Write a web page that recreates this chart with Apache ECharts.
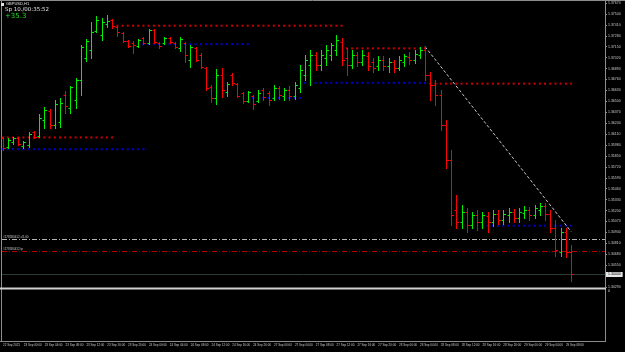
<!DOCTYPE html>
<html>
<head>
<meta charset="utf-8">
<script src="https://cdn.jsdelivr.net/npm/echarts@6/dist/echarts.min.js"></script>
<style>
  html, body { margin: 0; padding: 0; background: #000; }
  #chart { width: 625px; height: 352px; }
</style>
</head>
<body>
<div id="chart"></div>
<script>
const symbolName = 'GBPUSD,H1'
const spreadText = 'Sp 10./00:35:52'
const profitText = '+35.3'

// one label every 4 bars, starting at bar 0
const tickLabels = [
  '22 Sep 2021', '23 Sep 00:00', '23 Sep 04:00', '23 Sep 08:00', '23 Sep 12:00', '23 Sep 16:00', '23 Sep 20:00',
  '24 Sep 00:00', '24 Sep 04:00', '24 Sep 08:00', '24 Sep 12:00', '24 Sep 16:00', '24 Sep 20:00',
  '27 Sep 00:00', '27 Sep 04:00', '27 Sep 08:00', '27 Sep 12:00', '27 Sep 16:00', '27 Sep 20:00',
  '28 Sep 00:00', '28 Sep 04:00', '28 Sep 08:00', '28 Sep 12:00', '28 Sep 16:00', '28 Sep 20:00',
  '29 Sep 00:00', '29 Sep 04:00', '29 Sep 08:00',
]

const opens = [
  1.3606, 1.3596, 1.3602, 1.3606, 1.3597, 1.3598, 1.3614, 1.3609, 1.3628, 1.3639,
  1.3622, 1.3625, 1.3658, 1.3642, 1.3652, 1.3675, 1.3702, 1.3711, 1.3734, 1.3729,
  1.3742, 1.3747, 1.3738, 1.3731, 1.3722, 1.3719, 1.3716, 1.3725, 1.3719, 1.3735,
  1.3719, 1.3719, 1.3725, 1.3719, 1.3714, 1.3719, 1.3699, 1.3714, 1.3705, 1.3690,
  1.3667, 1.3654, 1.3681, 1.3661, 1.3681, 1.3671, 1.3660, 1.3650, 1.3656, 1.3650,
  1.3664, 1.3660, 1.3654, 1.3666, 1.3656, 1.3664, 1.3656, 1.3666, 1.3681, 1.3693,
  1.3705, 1.3693, 1.3702, 1.3705, 1.3711, 1.3721, 1.3702, 1.3693, 1.3705, 1.3697,
  1.3704, 1.3697, 1.3692, 1.3699, 1.3692, 1.3697, 1.3690, 1.3697, 1.3703, 1.3699,
  1.3705, 1.3711, 1.3681, 1.3669, 1.3658, 1.3622, 1.3580, 1.3521, 1.3506, 1.3518,
  1.3503, 1.3515, 1.3506, 1.3514, 1.3506, 1.3516, 1.3509, 1.3515, 1.3518, 1.3511,
  1.3517, 1.3521, 1.3515, 1.3521, 1.3525, 1.3516, 1.3499, 1.3471, 1.3495, 1.3471,
]
const highs = [
  1.3608, 1.3606, 1.3608, 1.3608, 1.3603, 1.3614, 1.3615, 1.3635, 1.3643, 1.3641,
  1.3652, 1.3654, 1.3662, 1.3668, 1.3678, 1.3717, 1.3724, 1.3744, 1.3752, 1.3749,
  1.3753, 1.3748, 1.3740, 1.3733, 1.3723, 1.3722, 1.3724, 1.3727, 1.3736, 1.3736,
  1.3721, 1.3727, 1.3727, 1.3721, 1.3727, 1.3721, 1.3717, 1.3715, 1.3708, 1.3691,
  1.3669, 1.3688, 1.3690, 1.3673, 1.3684, 1.3672, 1.3661, 1.3662, 1.3658, 1.3664,
  1.3666, 1.3662, 1.3669, 1.3668, 1.3666, 1.3668, 1.3673, 1.3693, 1.3705, 1.3711,
  1.3709, 1.3711, 1.3717, 1.3719, 1.3729, 1.3725, 1.3714, 1.3711, 1.3709, 1.3711,
  1.3709, 1.3702, 1.3704, 1.3704, 1.3702, 1.3699, 1.3704, 1.3706, 1.3709, 1.3711,
  1.3715, 1.3716, 1.3685, 1.3675, 1.3664, 1.3628, 1.3592, 1.3539, 1.3527, 1.3523,
  1.3518, 1.3521, 1.3518, 1.3518, 1.3521, 1.3521, 1.3521, 1.3523, 1.3522, 1.3523,
  1.3525, 1.3524, 1.3527, 1.3529, 1.3529, 1.3521, 1.3509, 1.3499, 1.3499, 1.3479,
]
const lows = [
  1.3592, 1.3594, 1.3599, 1.3598, 1.3594, 1.3596, 1.3606, 1.3608, 1.3618, 1.3618,
  1.3618, 1.3620, 1.3636, 1.3636, 1.3642, 1.3658, 1.3698, 1.3702, 1.3733, 1.3723,
  1.3738, 1.3737, 1.3728, 1.3721, 1.3715, 1.3708, 1.3715, 1.3718, 1.3718, 1.3719,
  1.3714, 1.3718, 1.3719, 1.3714, 1.3710, 1.3697, 1.3691, 1.3698, 1.3690, 1.3664,
  1.3649, 1.3647, 1.3655, 1.3656, 1.3669, 1.3655, 1.3648, 1.3649, 1.3641, 1.3649,
  1.3652, 1.3646, 1.3652, 1.3653, 1.3652, 1.3652, 1.3653, 1.3661, 1.3675, 1.3669,
  1.3687, 1.3687, 1.3693, 1.3699, 1.3705, 1.3693, 1.3681, 1.3690, 1.3692, 1.3693,
  1.3687, 1.3685, 1.3687, 1.3687, 1.3685, 1.3685, 1.3687, 1.3692, 1.3694, 1.3696,
  1.3702, 1.3675, 1.3652, 1.3646, 1.3616, 1.3571, 1.3503, 1.3499, 1.3499, 1.3495,
  1.3499, 1.3497, 1.3499, 1.3495, 1.3502, 1.3504, 1.3504, 1.3506, 1.3506, 1.3506,
  1.3511, 1.3509, 1.3511, 1.3515, 1.3509, 1.3495, 1.3466, 1.3466, 1.3465, 1.3436,
]
const closes = [
  1.3594, 1.3604, 1.3606, 1.3599, 1.3602, 1.3611, 1.3608, 1.3630, 1.3640, 1.3622,
  1.3647, 1.3648, 1.3644, 1.3667, 1.3675, 1.3715, 1.3722, 1.3733, 1.3747, 1.3744,
  1.3746, 1.3740, 1.3733, 1.3722, 1.3716, 1.3717, 1.3723, 1.3719, 1.3735, 1.3721,
  1.3716, 1.3725, 1.3721, 1.3715, 1.3724, 1.3705, 1.3715, 1.3699, 1.3691, 1.3666,
  1.3654, 1.3681, 1.3664, 1.3671, 1.3672, 1.3656, 1.3650, 1.3661, 1.3647, 1.3660,
  1.3655, 1.3652, 1.3666, 1.3658, 1.3664, 1.3656, 1.3669, 1.3687, 1.3699, 1.3705,
  1.3693, 1.3705, 1.3711, 1.3717, 1.3723, 1.3699, 1.3693, 1.3705, 1.3697, 1.3705,
  1.3692, 1.3690, 1.3699, 1.3692, 1.3697, 1.3690, 1.3699, 1.3704, 1.3699, 1.3706,
  1.3711, 1.3681, 1.3669, 1.3658, 1.3622, 1.3580, 1.3515, 1.3506, 1.3518, 1.3503,
  1.3515, 1.3506, 1.3515, 1.3506, 1.3516, 1.3509, 1.3516, 1.3518, 1.3511, 1.3518,
  1.3521, 1.3515, 1.3523, 1.3525, 1.3516, 1.3499, 1.3473, 1.3495, 1.3471, 1.3444,
]

// indicator levels: [first bar, last bar, price]
const resistLevels = [[0, 21, 1.3607], [22, 65, 1.3740], [66, 81, 1.3713], [82, 109, 1.3671]]
const supportLevels = [[0, 27, 1.3593], [27, 47, 1.3718], [48, 57, 1.3654], [58, 81, 1.3672], [92, 109, 1.3502]]

// open order levels (stop / target) and the trend line
const orderLevels = [1.3486, 1.3472]
const orderLabels = ['#178580412 sl1.00', '#178580412 tp']
const trendLine = [[81, 1.3715], [109, 1.3495]]

const emptySlots = 6
const priceMin = 1.3429
const priceMax = 1.3767
const priceStep = 0.0013

const barCount = closes.length
const bid = closes[barCount - 1]
const cats = []
for (let i = 0; i < barCount + emptySlots; i++) cats.push(String(i))

const ohlc = closes.map((c, i) => [i, opens[i], highs[i], lows[i], c])

const levelDots = (levels) => {
  let pts = []
  levels.forEach(([a, b, p]) => {
    for (let i = a; i <= b; i++) pts.push([i, p])
  })
  return pts
}

function renderBar(params, api) {
  const i = api.value(0)
  const o = api.coord([i, api.value(1)])
  const h = api.coord([i, api.value(2)])
  const l = api.coord([i, api.value(3)])
  const c = api.coord([i, api.value(4)])
  const x = Math.round(o[0]) + 0.5
  const up = api.value(4) >= api.value(1)
  const st = { stroke: up ? '#00ee00' : '#ff0000', lineWidth: 1 }
  const oy = Math.round(o[1]) + 0.5
  const cy = Math.round(c[1]) + 0.5
  return {
    type: 'group',
    children: [
      { type: 'line', shape: { x1: x, y1: Math.round(h[1]), x2: x, y2: Math.round(l[1]) + 1 }, style: st },
      { type: 'line', shape: { x1: x - 2, y1: oy, x2: x, y2: oy }, style: st },
      { type: 'line', shape: { x1: x, y1: cy, x2: x + 2.5, y2: cy }, style: st },
    ],
  }
}

// horizontal lines: two order lines and the bid line
const hLineStyles = [
  { stroke: '#b4b4b4', lineDash: [5, 2, 1, 2] },
  { stroke: '#b00000', lineDash: [5, 2, 1, 2] },
  { stroke: '#2c3b36', lineDash: null },
]
function renderHLine(params, api) {
  const cs = params.coordSys
  const y = Math.round(api.coord([0, api.value(1)])[1]) + 0.5
  const k = params.dataIndex
  const children = [
    {
      type: 'line',
      shape: { x1: cs.x + 2, y1: y, x2: cs.x + cs.width, y2: y },
      style: { stroke: hLineStyles[k].stroke, lineWidth: 1, lineDash: hLineStyles[k].lineDash },
    },
  ]
  if (k < orderLabels.length) {
    children.push({
      type: 'text',
      x: 3,
      y: y - 0.5,
      style: { text: orderLabels[k], fill: '#c8c8c8', fontSize: 3, fontFamily: 'Liberation Sans', verticalAlign: 'bottom' },
    })
  } else {
    children.push({
      type: 'text',
      x: cs.x + cs.width + 1,
      y: y,
      style: {
        text: api.value(1).toFixed(5),
        fill: '#000',
        backgroundColor: '#e6e6e6',
        padding: [1, 2, 0, 2],
        fontSize: 3.5,
        fontFamily: 'Liberation Sans',
        verticalAlign: 'middle',
      },
    })
  }
  return { type: 'group', children: children }
}

const gray = '#8c8c8c'

let chart = echarts.init(document.getElementById('chart'))
chart.setOption({
  backgroundColor: '#000',
  animation: false,
  grid: [
    { left: -1, right: 20, top: 3, height: 284 },
    { left: -1, right: 20, top: 290, height: 51 },
  ],
  xAxis: [
    { type: 'category', gridIndex: 0, data: cats, boundaryGap: true, show: false },
    {
      type: 'category',
      gridIndex: 1,
      data: cats,
      boundaryGap: true,
      axisLine: { lineStyle: { color: gray, width: 1 } },
      axisTick: {
        alignWithLabel: true,
        length: 2,
        lineStyle: { color: gray },
        interval: (i) => i % 4 === 0 && i / 4 < tickLabels.length,
      },
      axisLabel: {
        interval: (i) => i % 4 === 0 && i / 4 < tickLabels.length,
        formatter: (v, i) => tickLabels[i / 4] || '',
        color: '#c8c8c8',
        fontSize: 3,
        fontFamily: 'Liberation Sans',
        align: 'left',
        margin: 3,
        showMinLabel: true,
        hideOverlap: false,
      },
    },
  ],
  yAxis: [
    {
      type: 'value',
      gridIndex: 0,
      position: 'right',
      min: priceMin,
      max: priceMax,
      interval: priceStep,
      axisLine: { show: false },
      axisTick: { show: true, length: 2, lineStyle: { color: gray } },
      splitLine: { show: false },
      axisLabel: {
        color: '#c8c8c8',
        fontSize: 3.5,
        fontFamily: 'Liberation Sans',
        margin: 3,
        formatter: (v) => v.toFixed(5),
      },
    },
    { type: 'value', gridIndex: 1, min: 0, max: 1, show: false },
  ],
  series: [
    {
      type: 'custom',
      xAxisIndex: 0,
      yAxisIndex: 0,
      renderItem: renderHLine,
      encode: { x: 0, y: 1 },
      data: [[0, orderLevels[0]], [0, orderLevels[1]], [0, bid]],
      silent: true,
      clip: false,
      z: 1,
    },
    {
      type: 'scatter',
      xAxisIndex: 0,
      yAxisIndex: 0,
      symbol: 'rect',
      symbolSize: 2,
      itemStyle: { color: '#ff0000' },
      data: levelDots(resistLevels),
      silent: true,
      z: 2,
    },
    {
      type: 'scatter',
      xAxisIndex: 0,
      yAxisIndex: 0,
      symbol: 'rect',
      symbolSize: 2,
      itemStyle: { color: '#0000ff' },
      data: levelDots(supportLevels),
      silent: true,
      z: 2,
    },
    {
      type: 'line',
      xAxisIndex: 0,
      yAxisIndex: 0,
      symbol: 'none',
      data: trendLine,
      lineStyle: { color: '#c8c8c8', width: 1, type: [3, 2] },
      silent: true,
      z: 3,
    },
    {
      type: 'custom',
      xAxisIndex: 0,
      yAxisIndex: 0,
      renderItem: renderBar,
      encode: { x: 0, y: [1, 2, 3, 4] },
      data: ohlc,
      silent: true,
      clip: false,
      z: 4,
    },
    { type: 'line', xAxisIndex: 1, yAxisIndex: 1, data: [], silent: true },
  ],
  graphic: [
    { type: 'line', shape: { x1: 0, y1: 0.5, x2: 625, y2: 0.5 }, style: { stroke: gray, lineWidth: 1 } },
    { type: 'line', shape: { x1: 1.5, y1: 0, x2: 1.5, y2: 342 }, style: { stroke: gray, lineWidth: 1 } },
    { type: 'line', shape: { x1: 605.5, y1: 0, x2: 605.5, y2: 342 }, style: { stroke: gray, lineWidth: 1 } },
    { type: 'line', shape: { x1: 0, y1: 288.5, x2: 606, y2: 288.5 }, style: { stroke: '#d0d0d0', lineWidth: 2 } },
    { type: 'rect', shape: { x: 1, y: 3, width: 3, height: 3 }, style: { fill: '#e0e0e0' } },
    { type: 'text', left: 6, top: 2, style: { text: symbolName, fill: '#e0e0e0', fontSize: 4, fontFamily: 'Liberation Sans' } },
    { type: 'text', left: 5, top: 7, style: { text: spreadText, fill: '#e0e0e0', fontSize: 5.5, fontFamily: 'DejaVu Sans' } },
    { type: 'text', left: 5, top: 13, style: { text: profitText, fill: '#22dd22', fontSize: 7, fontFamily: 'DejaVu Sans' } },
    { type: 'text', left: 608, top: 289, style: { text: '0', fill: '#c8c8c8', fontSize: 4, fontFamily: 'Liberation Sans' } },
  ],
})
</script>
</body>
</html>
